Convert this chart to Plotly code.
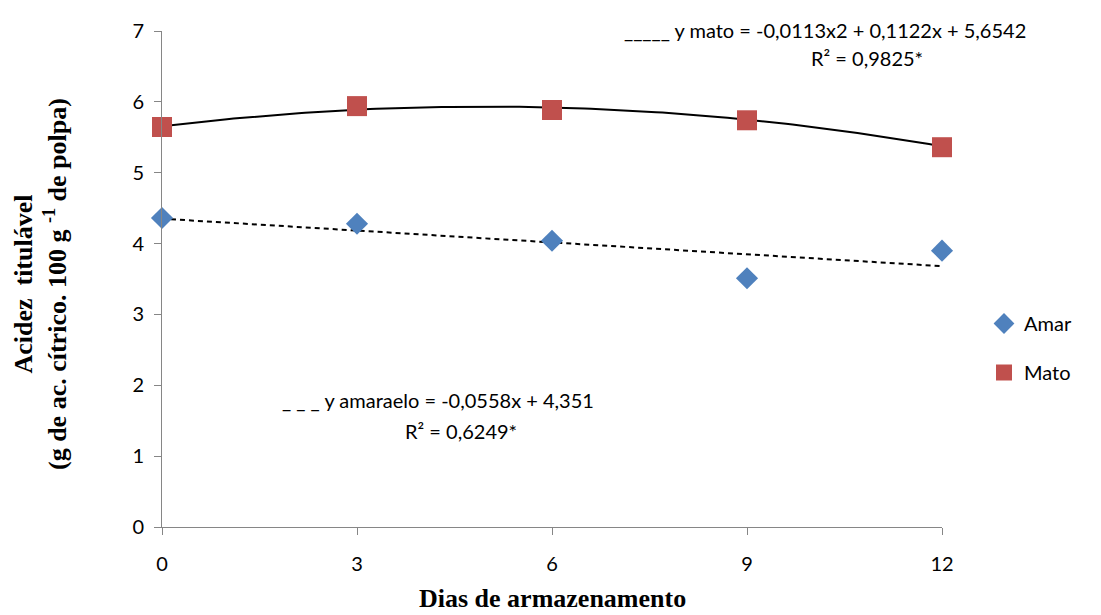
import numpy as np
import plotly.graph_objects as go

dias = [0, 3, 6, 9, 12]
amar = [4.36, 4.28, 4.04, 3.51, 3.90]
mato = [5.645, 5.94, 5.885, 5.74, 5.36]

# trendline coefficients as printed on the chart
mato_coef = [-0.0113, 0.1122, 5.6542]
amar_coef = [-0.0558, 4.351]

W, H = 1101, 615
L, R, T, B = 162, 942, 31, 527

def px(x):
    return (x - L) / (R - L)

def py(y):
    return (B - y) / (B - T)

xs = np.linspace(0, 12, 121)
fig = go.Figure()
fig.add_trace(go.Scatter(x=xs, y=np.polyval(mato_coef, xs), mode="lines",
                         line=dict(color="black", width=2), showlegend=False,
                         hoverinfo="skip"))
fig.add_trace(go.Scatter(x=xs, y=np.polyval(amar_coef, xs), mode="lines",
                         line=dict(color="black", width=2, dash="5px,4px"), showlegend=False,
                         hoverinfo="skip"))
fig.add_trace(go.Scatter(x=dias, y=amar, mode="markers", name="Amar",
                         marker=dict(symbol="diamond", size=17, color="#4F81BD"),
                         legendgroup="a", cliponaxis=False))
fig.add_trace(go.Scatter(x=dias, y=mato, mode="markers", name="Mato",
                         marker=dict(symbol="square", size=20, color="#C0504D"),
                         legendgroup="m", cliponaxis=False))

tickfont = dict(family="Lato, Open Sans, sans-serif", size=20, color="black")
fig.update_layout(
    width=W, height=H,
    margin=dict(l=L, r=W - R, t=T, b=H - B),
    plot_bgcolor="white", paper_bgcolor="white",
    showlegend=True,
    legend=dict(x=px(984), y=py(348), xanchor="left", yanchor="middle",
                font=dict(family="Lato, Open Sans, sans-serif", size=20, color="black"),
                tracegroupgap=20, bgcolor="rgba(0,0,0,0)"),
    xaxis=dict(range=[0, 12], tickvals=dias, ticks="outside", ticklen=7,
               tickcolor="#868686", showline=True, linecolor="#868686", linewidth=1,
               showgrid=False, zeroline=False, tickfont=tickfont, ticklabelstandoff=12),
    yaxis=dict(range=[0, 7], dtick=1, ticks="outside", ticklen=7,
               tickcolor="#868686", showline=True, linecolor="#868686", linewidth=1,
               showgrid=False, zeroline=False, tickfont=tickfont, ticklabelstandoff=6),
)

annfont = dict(family="Lato, Open Sans, sans-serif", size=20, color="black")
titlefont = dict(family="Liberation Serif, Times New Roman, serif", size=26, color="black")
anns = [
    dict(text="_____ y mato = -0,0113x2 + 0,1122x + 5,6542", x=px(622), y=py(30),
         xanchor="left", yanchor="middle", font=annfont),
    dict(text="R² = 0,9825*", x=px(925), y=py(58), xanchor="right", yanchor="middle", font=annfont),
    dict(text="_ _ _ y amaraelo = -0,0558x + 4,351", x=px(280), y=py(400),
         xanchor="left", yanchor="middle", font=annfont),
    dict(text="R² = 0,6249*", x=px(403), y=py(431), xanchor="left", yanchor="middle", font=annfont),
    dict(text="<b>Dias de armazenamento</b>", x=px(552), y=py(598), xanchor="center",
         yanchor="middle", font=titlefont),
    dict(text="<b>Acidez  titulável<br>(g de ac. cítrico. 100 g <sup>-1</sup> de polpa)</b>",
         x=px(40), y=py(284), xanchor="center", yanchor="middle", textangle=-90,
         font=dict(family="Liberation Serif, Times New Roman, serif", size=26, color="black")),
]
for a in anns:
    fig.add_annotation(xref="paper", yref="paper", showarrow=False, **a)

fig.write_html("out.html")
